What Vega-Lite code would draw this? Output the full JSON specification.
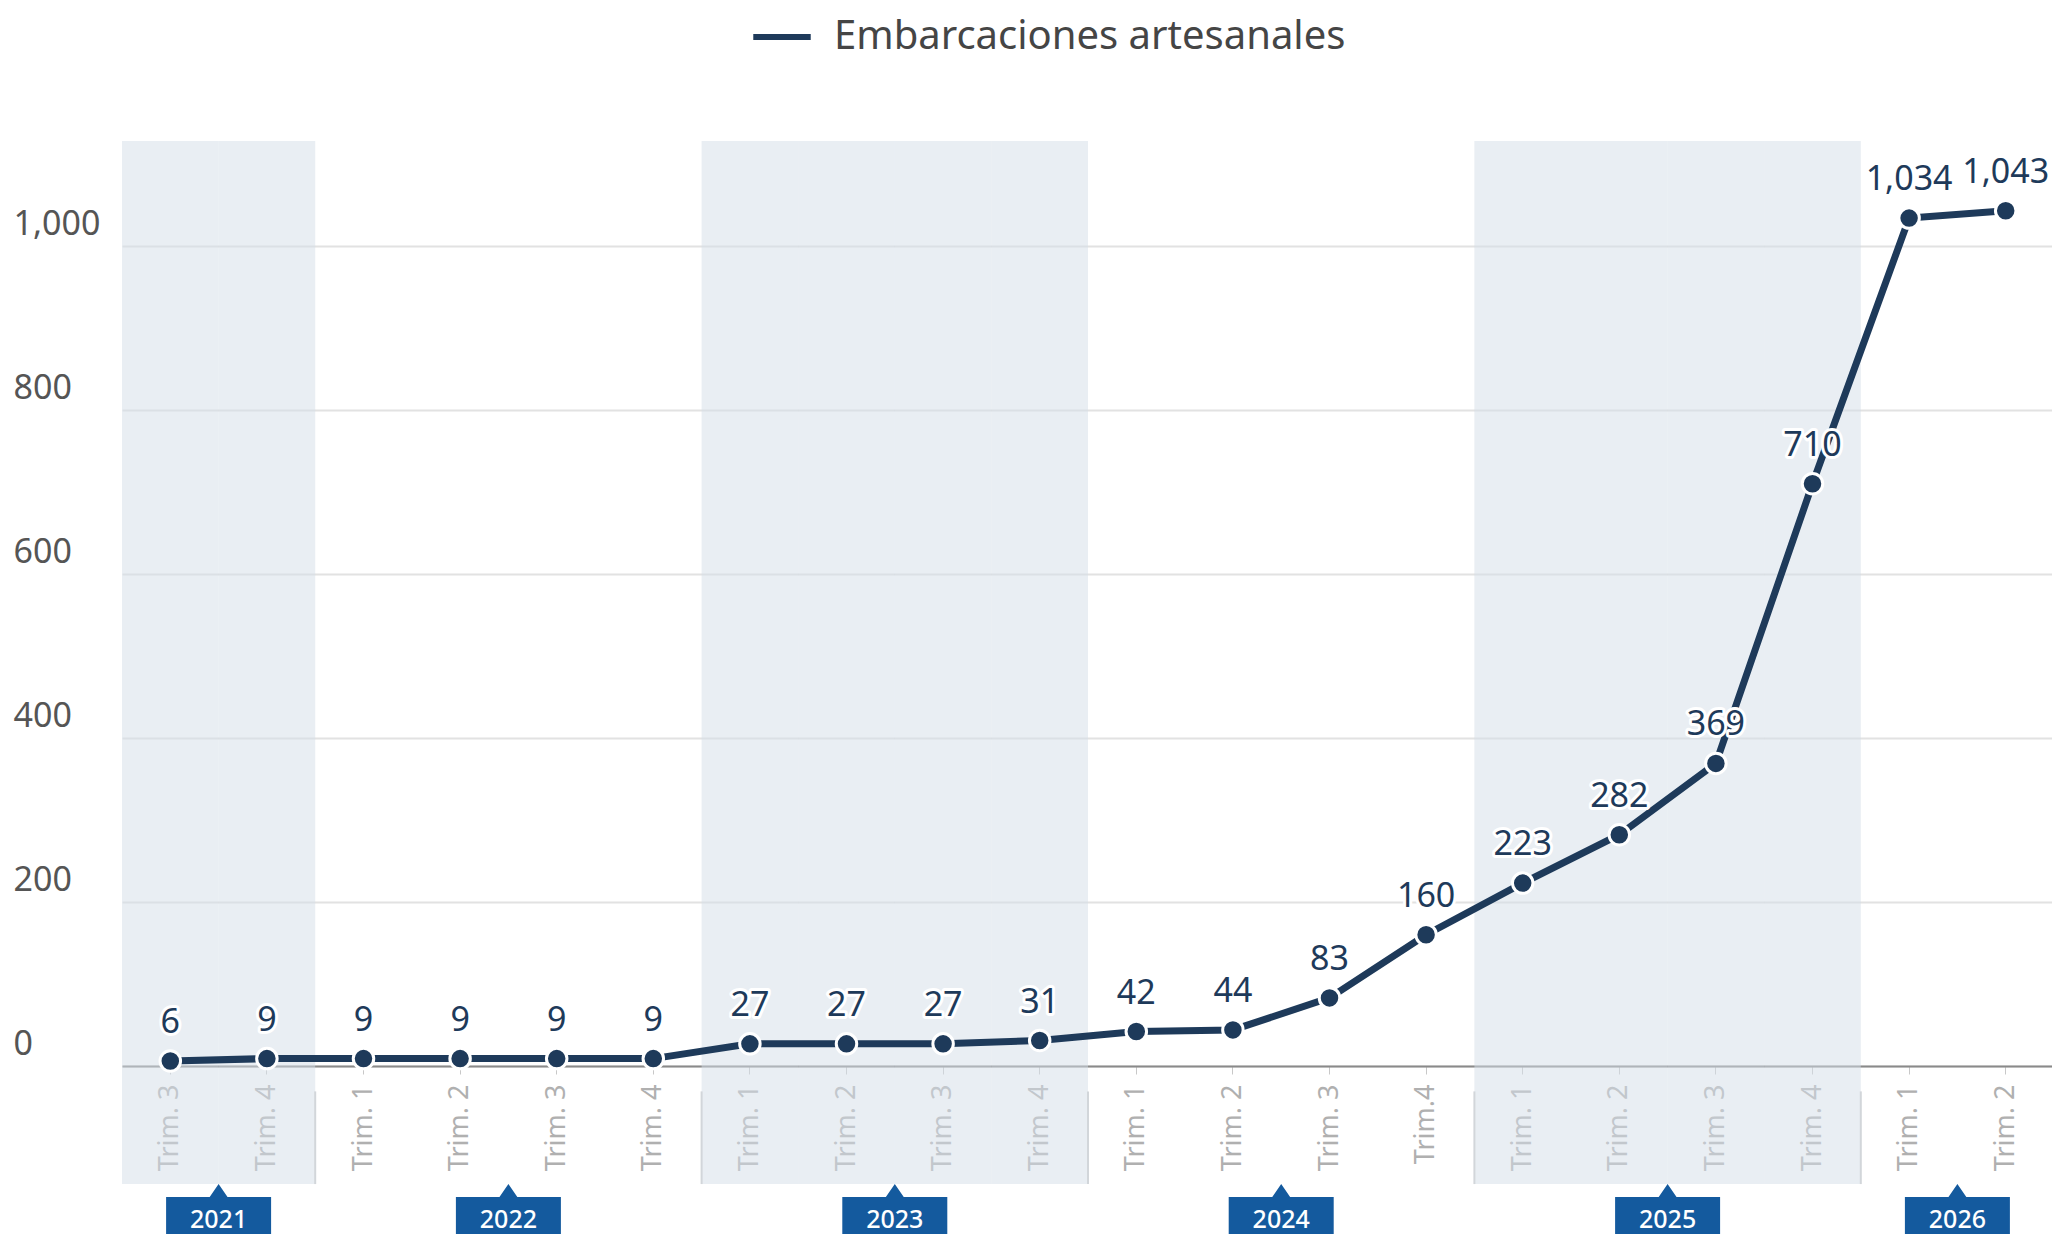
{
  "$schema": "https://vega.github.io/schema/vega-lite/v6.json",
  "autosize": {"type": "none"},
  "padding": {"left": 13, "top": 141, "right": 0, "bottom": 0},
  "width": 2039,
  "height": 1093,
  "background": "white",
  "config": {
    "view": {"stroke": null},
    "font": "Noto Sans"
  },
  "datasets": {
    "serie": [
      {"anio": 2021, "periodo": "2021|Trim. 3", "trim": "Trim. 3", "valor": 6},
      {"anio": 2021, "periodo": "2021|Trim. 4", "trim": "Trim. 4", "valor": 9},
      {"anio": 2022, "periodo": "2022|Trim. 1", "trim": "Trim. 1", "valor": 9},
      {"anio": 2022, "periodo": "2022|Trim. 2", "trim": "Trim. 2", "valor": 9},
      {"anio": 2022, "periodo": "2022|Trim. 3", "trim": "Trim. 3", "valor": 9},
      {"anio": 2022, "periodo": "2022|Trim. 4", "trim": "Trim. 4", "valor": 9},
      {"anio": 2023, "periodo": "2023|Trim. 1", "trim": "Trim. 1", "valor": 27},
      {"anio": 2023, "periodo": "2023|Trim. 2", "trim": "Trim. 2", "valor": 27},
      {"anio": 2023, "periodo": "2023|Trim. 3", "trim": "Trim. 3", "valor": 27},
      {"anio": 2023, "periodo": "2023|Trim. 4", "trim": "Trim. 4", "valor": 31},
      {"anio": 2024, "periodo": "2024|Trim. 1", "trim": "Trim. 1", "valor": 42},
      {"anio": 2024, "periodo": "2024|Trim. 2", "trim": "Trim. 2", "valor": 44},
      {"anio": 2024, "periodo": "2024|Trim. 3", "trim": "Trim. 3", "valor": 83},
      {"anio": 2024, "periodo": "2024|Trim.4", "trim": "Trim.4", "valor": 160},
      {"anio": 2025, "periodo": "2025|Trim. 1", "trim": "Trim. 1", "valor": 223},
      {"anio": 2025, "periodo": "2025|Trim. 2", "trim": "Trim. 2", "valor": 282},
      {"anio": 2025, "periodo": "2025|Trim. 3", "trim": "Trim. 3", "valor": 369},
      {"anio": 2025, "periodo": "2025|Trim. 4", "trim": "Trim. 4", "valor": 710},
      {"anio": 2026, "periodo": "2026|Trim. 1", "trim": "Trim. 1", "valor": 1034},
      {"anio": 2026, "periodo": "2026|Trim. 2", "trim": "Trim. 2", "valor": 1043}
    ],
    "anios": [
      {"anio": "2021", "periodo": "2021|Trim. 4"},
      {"anio": "2022", "periodo": "2022|Trim. 3"},
      {"anio": "2023", "periodo": "2023|Trim. 3"},
      {"anio": "2024", "periodo": "2024|Trim. 3"},
      {"anio": "2025", "periodo": "2025|Trim. 3"},
      {"anio": "2026", "periodo": "2026|Trim. 2"}
    ]
  },
  "data": {"name": "serie"},
  "encoding": {
    "x": {
      "field": "periodo",
      "type": "ordinal",
      "scale": {"type": "band", "range": [109, 2041], "paddingInner": 0, "paddingOuter": 0},
      "axis": {
        "title": null,
        "orient": "bottom",
        "offset": -168,
        "labelExpr": "split(datum.value, '|')[1]",
        "labelAngle": 270,
        "labelAlign": "right",
        "labelBaseline": "middle",
        "labelPadding": 10,
        "labelFontSize": 27,
        "labelColor": "#b0b0b0",
        "tickColor": "#c8c8c8",
        "tickSize": 8,
        "tickWidth": 1,
        "domainColor": "#8a8a8a",
        "domainWidth": 2,
        "grid": false,
        "zindex": 0
      }
    }
  },
  "layer": [
    {
      "transform": [{"filter": "datum.anio == 2021 || datum.anio == 2023 || datum.anio == 2025"}],
      "mark": {"type": "rect", "color": "#d3dde7", "opacity": 0.5},
      "encoding": {
        "y": {
          "datum": 1128,
          "type": "quantitative",
          "scale": {"domain": [-204.9, 1128], "nice": false, "zero": false},
          "axis": {
            "title": null,
            "values": [0, 200, 400, 600, 800, 1000],
            "format": ",d",
            "domain": false,
            "ticks": false,
            "tickSize": 0,
            "labelAlign": "left",
            "labelBaseline": "bottom",
            "labelPadding": 0,
            "labelOffset": -4,
            "labelFontSize": 34,
            "labelColor": "#555555",
            "grid": true,
            "gridColor": "#e2e2e2",
            "gridWidth": 2,
            "zindex": 0
          }
        },
        "y2": {"datum": -144}
      }
    },
    {
      "transform": [{"filter": "datum.trim == 'Trim. 1'"}],
      "mark": {"type": "rule", "color": "#d2d6da", "strokeWidth": 2},
      "encoding": {
        "x": {"field": "periodo", "type": "ordinal", "bandPosition": 0},
        "y": {"datum": -31},
        "y2": {"datum": -144}
      }
    },
    {
      "mark": {"type": "line", "strokeWidth": 7},
      "encoding": {
        "y": {"field": "valor", "type": "quantitative"},
        "color": {
          "datum": "Embarcaciones artesanales",
          "type": "nominal",
          "scale": {"range": ["#1e3a5a"]},
          "legend": {
            "title": null,
            "orient": "none",
            "legendX": 737,
            "legendY": -136,
            "padding": 0,
            "symbolType": "stroke",
            "symbolStrokeWidth": 6,
            "symbolSize": 3300,
            "labelFontSize": 40,
            "labelLimit": 0,
            "labelColor": "#454545",
            "labelOffset": 20
          }
        }
      }
    },
    {
      "mark": {"type": "point", "filled": true, "fill": "#1e3a5a", "stroke": "white", "strokeWidth": 3, "size": 420, "opacity": 1},
      "encoding": {
        "y": {"field": "valor", "type": "quantitative"}
      }
    },
    {
      "mark": {"type": "text", "fontSize": 34, "dy": -28, "baseline": "alphabetic", "stroke": "white", "strokeWidth": 6, "strokeJoin": "round", "fill": "white"},
      "encoding": {
        "y": {"field": "valor", "type": "quantitative"},
        "text": {"field": "valor", "type": "quantitative", "format": ",d"}
      }
    },
    {
      "mark": {"type": "text", "fontSize": 34, "dy": -28, "baseline": "alphabetic", "fill": "#1e3a5a"},
      "encoding": {
        "y": {"field": "valor", "type": "quantitative"},
        "text": {"field": "valor", "type": "quantitative", "format": ",d"}
      }
    },
    {
      "data": {"name": "anios"},
      "mark": {"type": "point", "filled": true, "fill": "#145a9e", "strokeWidth": 0, "opacity": 1, "size": 11025,
               "shape": "M-1,-0.343L-0.17,-0.343L0,-0.59L0.17,-0.343L1,-0.343L1,0.476L-1,0.476Z"},
      "encoding": {
        "x": {"field": "periodo", "type": "ordinal", "bandPosition": 0},
        "y": {"datum": -181.7}
      }
    },
    {
      "data": {"name": "anios"},
      "mark": {"type": "text", "fill": "white", "fontSize": 25, "fontWeight": 500, "baseline": "middle", "align": "center"},
      "encoding": {
        "x": {"field": "periodo", "type": "ordinal", "bandPosition": 0},
        "y": {"datum": -188},
        "text": {"field": "anio", "type": "nominal"}
      }
    }
  ]
}
